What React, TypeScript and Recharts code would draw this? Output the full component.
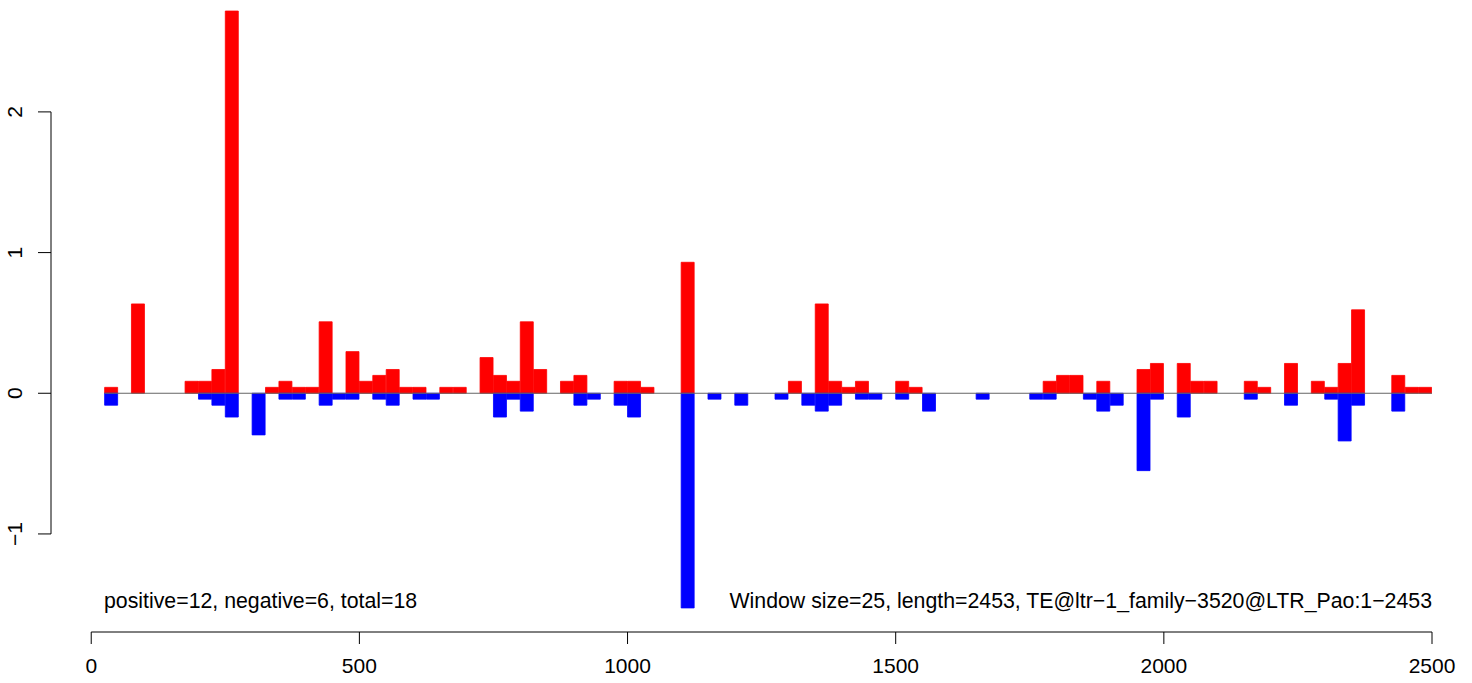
import { BarChart, Bar, XAxis, YAxis, ReferenceLine } from 'recharts';

const WINDOW_SIZE = 25;

// window k (k = 1..99) covers [25k, 25k + 25]
const positive = [
  0.042, 0, 0.635, 0, 0, 0, 0.085, 0.085, 0.169, 2.717,
  0, 0, 0.042, 0.085, 0.042, 0.042, 0.508, 0, 0.296, 0.085,
  0.127, 0.169, 0.042, 0.042, 0, 0.042, 0.042, 0, 0.254, 0.127,
  0.085, 0.508, 0.169, 0, 0.085, 0.127, 0, 0, 0.085, 0.085,
  0.042, 0, 0, 0.931, 0, 0, 0, 0, 0, 0,
  0, 0.085, 0, 0.635, 0.085, 0.042, 0.085, 0, 0, 0.085,
  0.042, 0, 0, 0, 0, 0, 0, 0, 0, 0,
  0.085, 0.127, 0.127, 0, 0.085, 0, 0, 0.169, 0.212, 0,
  0.212, 0.085, 0.085, 0, 0, 0.085, 0.042, 0, 0.212, 0,
  0.085, 0.042, 0.212, 0.593, 0, 0, 0.127, 0.042, 0.042,
];

const negative = [
  -0.085, 0, 0, 0, 0, 0, 0, -0.042, -0.085, -0.169,
  0, -0.296, 0, -0.042, -0.042, 0, -0.085, -0.042, -0.042, 0,
  -0.042, -0.085, 0, -0.042, -0.042, 0, 0, 0, 0, -0.169,
  -0.042, -0.127, 0, 0, 0, -0.085, -0.042, 0, -0.085, -0.169,
  0, 0, 0, -1.526, 0, -0.042, 0, -0.085, 0, 0,
  -0.042, 0, -0.085, -0.127, -0.085, 0, -0.042, -0.042, 0, -0.042,
  0, -0.127, 0, 0, 0, -0.042, 0, 0, 0, -0.042,
  -0.042, 0, 0, -0.042, -0.127, -0.085, 0, -0.55, -0.042, 0,
  -0.169, 0, 0, 0, 0, -0.042, 0, 0, -0.085, 0,
  0, -0.042, -0.339, -0.085, 0, 0, -0.127, 0, 0,
];

const xTicks = [0, 500, 1000, 1500, 2000, 2500];
const yTicks = [-1, 0, 1, 2];

const leftNote = 'positive=12, negative=6, total=18';
const rightNote = 'Window size=25, length=2453, TE@ltr\u22121_family\u22123520@LTR_Pao:1\u22122453';

const data = positive.map((p, i) => ({
  x: (i + 1) * WINDOW_SIZE + WINDOW_SIZE / 2,
  pos: p,
  neg: negative[i],
}));

const X_MIN = -75;
const X_MAX = 2500;
const Y_MIN = -1.697;
const Y_MAX = 2.767;

const FONT = '"Liberation Sans", Arial, Helvetica, sans-serif';
const NOTE_SIZE = 21.3;
const RED = '#ff0000';
const BLUE = '#0000ff';

const minus = (v: number) => String(v).replace('-', '\u2212');

function YTick({ x, y, payload }: any) {
  return (
    <text
      x={x}
      y={y}
      dy="0.355em"
      textAnchor="middle"
      transform={`rotate(-90 ${x} ${y})`}
      fontSize={21}
      fontFamily={FONT}
      fill="#000"
    >
      {minus(payload.value)}
    </text>
  );
}

export default function App() {
  return (
    <div style={{ position: 'absolute', left: 0, top: 0, width: 1472, height: 683, background: '#fff', fontFamily: FONT }}>
      <BarChart
        width={1472}
        height={683}
        data={data}
        stackOffset="sign"
        barCategoryGap={0}
        barGap={0}
        margin={{ top: 4, right: 40, bottom: 11, left: 0 }}
      >
        <XAxis
          type="number"
          dataKey="x"
          domain={[X_MIN, X_MAX]}
          ticks={xTicks}
          interval={0}
          allowDataOverflow
          axisLine={false}
          tickLine={{ stroke: '#000' }}
          tickSize={12}
          tickMargin={14}
          height={40}
          tick={{ fill: '#000', fontSize: 21, fontFamily: FONT }}
        />
        <YAxis
          type="number"
          domain={[Y_MIN, Y_MAX]}
          ticks={yTicks}
          interval={0}
          allowDataOverflow
          axisLine={false}
          tickLine={{ stroke: '#000' }}
          tickSize={13}
          tickMargin={23}
          width={51}
          tick={<YTick />}
        />
        <Bar dataKey="pos" stackId="s" fill={RED} stroke={RED} strokeWidth={0.8} isAnimationActive={false} />
        <Bar dataKey="neg" stackId="s" fill={BLUE} stroke={BLUE} strokeWidth={0.8} isAnimationActive={false} />
        <ReferenceLine
          segment={[{ x: WINDOW_SIZE, y: 0 }, { x: X_MAX, y: 0 }]}
          stroke="#666"
          strokeWidth={1}
          ifOverflow="visible"
        />
        <ReferenceLine
          segment={[{ x: X_MIN, y: yTicks[0] }, { x: X_MIN, y: yTicks[yTicks.length - 1] }]}
          stroke="#000"
          strokeWidth={1}
          ifOverflow="visible"
        />
        <ReferenceLine
          segment={[{ x: xTicks[0], y: Y_MIN }, { x: xTicks[xTicks.length - 1], y: Y_MIN }]}
          stroke="#000"
          strokeWidth={1}
          ifOverflow="visible"
        />
      </BarChart>
      <div style={{ position: 'absolute', left: 104, top: 591, fontSize: NOTE_SIZE, lineHeight: '21px', color: '#000', whiteSpace: 'nowrap' }}>
        {leftNote}
      </div>
      <div style={{ position: 'absolute', right: 40, top: 591, fontSize: NOTE_SIZE, lineHeight: '21px', color: '#000', whiteSpace: 'nowrap' }}>
        {rightNote}
      </div>
    </div>
  );
}
